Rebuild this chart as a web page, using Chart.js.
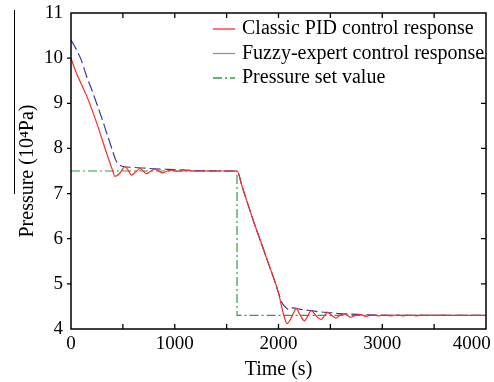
<!DOCTYPE html>
<html>
<head>
<meta charset="utf-8">
<script src="https://cdn.jsdelivr.net/npm/chart.js@4"></script>
<style>
  html, body { margin:0; padding:0; background:#fff; }
  #wrap { width:494px; height:382px; position:relative; }
</style>
</head>
<body>
<div id="wrap"><canvas id="chart"></canvas></div>
<script>
// ---- data ----
const pidTime = [0,50,100,150,200,250,300,350,400,423,470,520,550,583,620,663,700,728,770,808,850,885,930,970,1020,1100,1200,1400,1600,
  1650,1700,1750,1800,1850,1900,1950,2000,2040,2083,2130,2170,2210,2250,2285,2314,2360,2410,2445,2474,2515,2554,2590,2630,2665,2700,
  2740,2790,2840,2900,2960,3020,3080,3140,3200,3260,3330,3400,3480,3560,3650,3800,4000];
const pidPressure = [10.0,9.68,9.42,9.17,8.87,8.55,8.2,7.85,7.52,7.38,7.45,7.6,7.52,7.41,7.47,7.56,7.49,7.44,7.5,7.54,7.49,7.46,7.5,7.52,7.49,7.51,7.5,7.5,7.5,
  7.15,6.8,6.45,6.12,5.8,5.47,5.15,4.8,4.4,4.12,4.28,4.45,4.3,4.18,4.3,4.41,4.3,4.21,4.3,4.37,4.3,4.24,4.3,4.34,4.3,4.26,
  4.3,4.32,4.28,4.31,4.29,4.31,4.29,4.31,4.29,4.31,4.29,4.31,4.3,4.31,4.3,4.3,4.3];

const fuzzyTime = [0,50,100,150,200,250,300,350,400,430,460,500,600,800,1000,1200,1400,1600,
  1650,1700,1750,1800,1850,1900,1950,2000,2030,2060,2100,2140,2200,2300,2400,2500,2600,2700,2800,2900,3000,3500,4000];
const fuzzyPressure = [10.4,10.2,9.95,9.6,9.3,8.98,8.65,8.3,7.95,7.75,7.65,7.6,7.58,7.55,7.53,7.51,7.5,7.5,
  7.15,6.8,6.45,6.12,5.8,5.47,5.15,4.8,4.6,4.5,4.43,4.47,4.44,4.41,4.38,4.36,4.34,4.33,4.32,4.31,4.3,4.3,4.3];

const setTime = [0,1600,1600,4000];
const setPressure = [7.5,7.5,4.3,4.3];

const seriesNames = ["Classic PID control response","Fuzzy-expert control response","Pressure set value"];
const yTicks = [4,5,6,7,8,9,10,11];
const xTicks = [0,1000,2000,3000,4000];

const toPoints = (xs, ys) => xs.map((x,i) => ({x:x, y:ys[i]}));

const SERIF = "'Liberation Serif', 'DejaVu Serif', serif";

/* frame, ticks, legend and the stray scan line */
const decoPlugin = {
  id:'deco',
  afterDraw(chart){
    const {ctx, chartArea:a, scales:{x, y}} = chart;
    ctx.save();
    ctx.strokeStyle = "#000";
    ctx.lineWidth = 1.5;
    ctx.strokeRect(a.left, a.top, a.right - a.left, a.bottom - a.top);
    ctx.lineWidth = 1.3;
    ctx.beginPath();
    for(let v = 500; v < 4000; v += 500){
      const px = x.getPixelForValue(v);
      ctx.moveTo(px, a.bottom); ctx.lineTo(px, a.bottom - 5);
      ctx.moveTo(px, a.top); ctx.lineTo(px, a.top + 5);
    }
    yTicks.forEach(v => {
      if(v === 4 || v === 11) return;
      const py = y.getPixelForValue(v);
      ctx.moveTo(a.left, py); ctx.lineTo(a.left - 4, py);
      ctx.moveTo(a.right, py); ctx.lineTo(a.right - 5, py);
    });
    ctx.stroke();

    // scan artifact at far left
    ctx.lineWidth = 1;
    ctx.beginPath();
    ctx.moveTo(14.5, 10); ctx.lineTo(14.5, 194);
    ctx.stroke();

    // legend
    const rows = [29, 53.5, 78];
    ctx.font = "20px " + SERIF;
    ctx.textBaseline = "middle";
    ctx.fillStyle = "#000";
    chart.data.datasets.forEach((ds, i) => {
      ctx.strokeStyle = ds.legendColor || ds.borderColor;
      ctx.lineWidth = 1.3;
      ctx.setLineDash(ds.legendDash || []);
      ctx.beginPath();
      ctx.moveTo(213, rows[i]); ctx.lineTo(235, rows[i]);
      ctx.stroke();
      ctx.setLineDash([]);
      ctx.fillText(ds.label, 242, rows[i]);
    });
    ctx.restore();
  }
};

new Chart(document.getElementById("chart"), {
  type:"line",
  data:{
    datasets:[
      {
        label:seriesNames[0],
        data:toPoints(pidTime, pidPressure),
        borderColor:"#ff2a2a",
        borderWidth:1.2,
        pointRadius:0,
        cubicInterpolationMode:"monotone"
      },
      {
        label:seriesNames[1],
        data:toPoints(fuzzyTime, fuzzyPressure),
        borderColor:"#3a3a98",
        legendColor:"#8f8fc8",
        borderWidth:1.2,
        borderDash:[11,4],
        pointRadius:0,
        cubicInterpolationMode:"monotone"
      },
      {
        label:seriesNames[2],
        data:toPoints(setTime, setPressure),
        borderColor:"#2e9e3e",
        borderWidth:1.2,
        borderDash:[9,3,2,3],
        legendDash:[9,3,2,3],
        pointRadius:0,
        tension:0
      }
    ]
  },
  options:{
    responsive:true,
    maintainAspectRatio:false,
    animation:false,
    layout:{ padding:{ left:0, right:8, top:13, bottom:0 } },
    plugins:{
      legend:{ display:false },
      tooltip:{ enabled:false }
    },
    scales:{
      x:{
        type:"linear",
        min:0, max:4000,
        afterBuildTicks(scale){ scale.ticks = xTicks.map(v => ({value:v})); },
        afterFit(scale){ scale.height = 53; scale.paddingLeft = 0; scale.paddingRight = 0; },
        grid:{ display:false, drawTicks:false },
        border:{ display:false },
        ticks:{
          color:"#000",
          padding:4,
          maxRotation:0,
          font:{ family:SERIF, size:19 },
          // last label sits pulled in from the edge, as in the original
          callback:v => v === 4000 ? String(v) + "\u2003\u2002" : String(v)
        },
        title:{
          display:true,
          text:"Time (s)",
          color:"#000",
          padding:{ top:12, bottom:0 },
          font:{ family:SERIF, size:20 }
        }
      },
      y:{
        min:4, max:11,
        afterBuildTicks(scale){ scale.ticks = yTicks.map(v => ({value:v})); },
        afterFit(scale){ scale.width = 71; scale.paddingTop = 0; scale.paddingBottom = 0; },
        grid:{ display:false, drawTicks:false },
        border:{ display:false },
        ticks:{
          color:"#000",
          padding:8,
          font:{ family:SERIF, size:19 },
          callback:v => String(v)
        },
        title:{
          display:true,
          text:"Pressure (10\u2074Pa)",
          color:"#000",
          padding:{ top:16, bottom:0 },
          font:{ family:SERIF, size:20 }
        }
      }
    }
  },
  plugins:[decoPlugin]
});
</script>
</body>
</html>
